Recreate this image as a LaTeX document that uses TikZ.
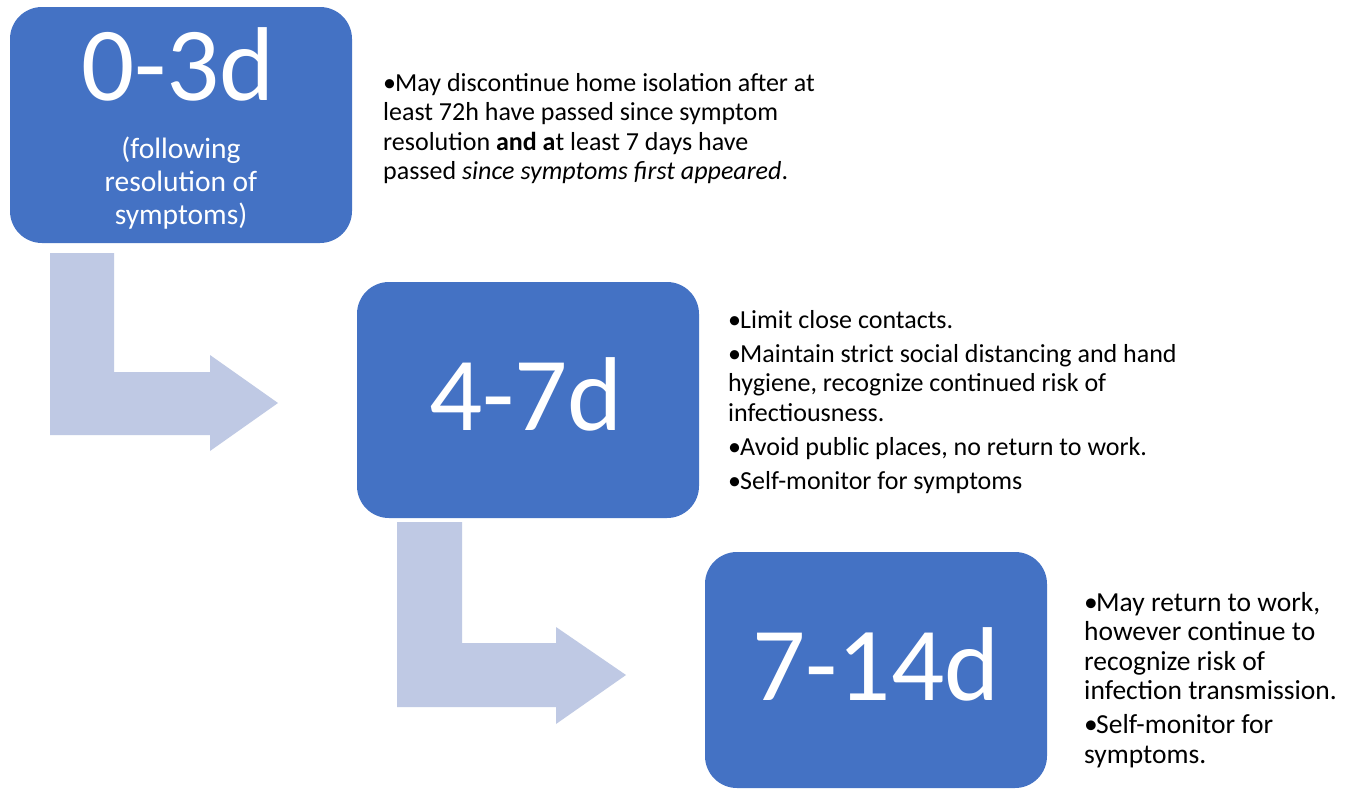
\documentclass[tikz,border=0pt]{standalone}
\usepackage{fontspec}
\setmainfont{Carlito}
\definecolor{boxblue}{HTML}{4472C4}
\definecolor{arrowblue}{HTML}{BFC9E4}
\newcommand\bitem{\par\hangindent=12pt\hangafter=1\noindent\makebox[12pt][l]{•}}
\newcommand\notebox[3]{\begin{minipage}[t]{#1}\raggedright\fontsize{#2}{29.6}\selectfont\setlength{\parskip}{4.5pt}#3\end{minipage}}
\begin{document}
\begin{tikzpicture}[x=1pt,y=-1pt,
  stage/.style={fill=boxblue, draw=none, rounded corners=32pt, minimum width=342pt, minimum height=236pt, inner sep=0pt},
  bigtxt/.style={text=white, font=\fontsize{105}{105}\selectfont, anchor=base, inner sep=0pt},
  subtxt/.style={text=white, anchor=base, inner sep=0pt},
  note/.style={anchor=base west, inner sep=0pt},
  bentarrow/.style={fill=arrowblue, draw=none}]
\useasboundingbox (0,0) rectangle (1347,790);
\fill[white] (0,0) rectangle (1347,790);

% bent arrows
\path[bentarrow] (50,253) -- (114,253) -- (114,372) -- (210,372) -- (210,355) -- (278,403) -- (210,451) -- (210,435) -- (50,435) -- cycle;
\path[bentarrow] (397,522) -- (462,522) -- (462,643) -- (556,643) -- (556,627) -- (626,675) -- (556,724) -- (556,707) -- (397,707) -- cycle;

% stage boxes
\node[stage] (b1) at (181,125) {};
\node[stage] (b2) at (528,400) {};
\node[stage] (b3) at (876,670) {};

\node[bigtxt] (t1) at (178,100) {0-3d};
\node[subtxt] (s1) at (181,158) {\begin{minipage}[t]{300pt}\centering\fontsize{29.5}{33}\selectfont (following\\resolution of\\symptoms)\end{minipage}};
\node[bigtxt] (t2) at (526,430) {4-7d};
\node[bigtxt] (t3) at (876,700) {7-14d};

% notes
\node[note] (n1) at (383,91) {\notebox{470pt}{26}{\bitem May discontinue home isolation after at\\least 72h have passed since symptom\\resolution \textbf{and a}t least 7 days have\\passed \textit{since symptoms first appeared}.}};
\node[note] (n2) at (728,328) {\notebox{520pt}{26}{\bitem Limit close contacts.\bitem Maintain strict social distancing and hand\\hygiene, recognize continued risk of\\infectiousness.\bitem Avoid public places, no return to work.\bitem Self-monitor for symptoms}};
\node[note] (n3) at (1084,611) {\notebox{262pt}{27.5}{\bitem May return to work,\\however continue to\\recognize risk of\\infection transmission.\bitem Self-monitor for\\symptoms.}};
\end{tikzpicture}
\end{document}
